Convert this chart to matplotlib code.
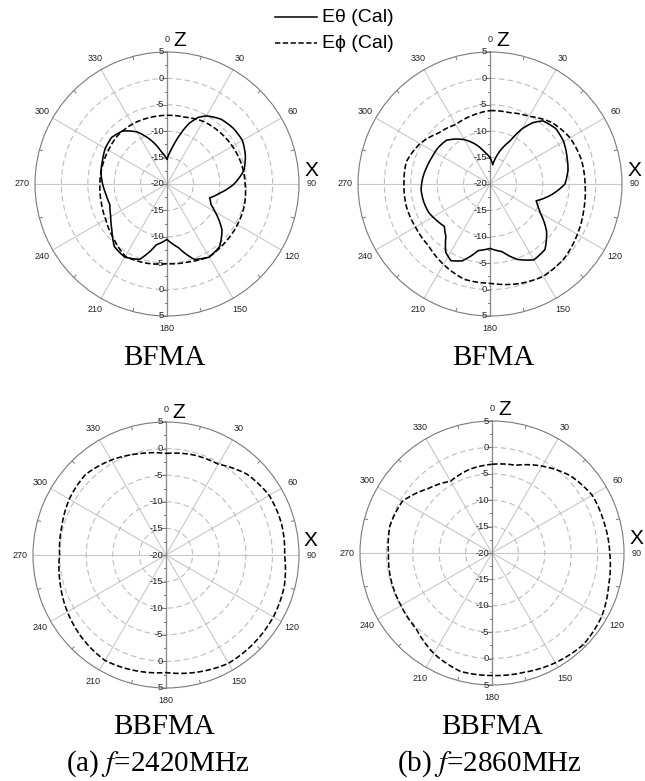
import matplotlib.pyplot as plt
from matplotlib.lines import Line2D
import numpy as np

plt.rcParams['font.family'] = ['Liberation Sans', 'DejaVu Sans']
plt.rcParams['mathtext.fontset'] = 'stix'

# ---- data (dB) ----
# (a) f=2420MHz, BFMA
tl_th_ang = [0, 5, 10, 15, 20, 25, 30, 40, 50, 60, 70, 80, 90, 100, 108, 115, 120, 130, 140, 150,
             160, 170, 180, 190, 200, 210, 220, 230, 240, 250, 260, 270, 280, 290, 300, 310, 320,
             330, 340, 350, 360]
tl_th_val = [-15.3, -14.0, -12.4, -10.2, -7.8, -6.1, -5.1, -4.0, -3.6, -3.5, -4.2, -5.2, -7.3, -9.9,
             -11.5, -10.8, -9.5, -6.4, -4.5, -4.0, -4.8, -7.8, -9.5, -8.3, -4.8, -4.0, -4.5, -6.4,
             -7.7, -8.5, -8.3, -7.8, -7.3, -7.0, -6.5, -6.3, -6.9, -8.6, -11.2, -13.8, -15.3]
tl_ph_ang = [0, 15, 30, 45, 60, 75, 90, 105, 120, 135, 150, 165, 180, 195, 210, 225, 240, 255,
             270, 285, 300, 315, 330, 345, 360]
tl_ph_val = [-7.0, -6.9, -6.3, -6.0, -5.7, -5.4, -5.2, -4.8, -4.6, -4.4, -4.1, -4.7, -4.9, -4.5,
             -4.2, -5.6, -6.6, -7.1, -7.3, -7.3, -7.2, -6.9, -6.9, -7.0, -7.0]

# (b) f=2860MHz, BFMA
tr_th_ang = [0, 8, 15, 20, 25, 30, 35, 40, 50, 60, 70, 80, 90, 100, 110, 115, 120, 130, 140, 150,
             160, 170, 180, 190, 200, 207, 213, 220, 227, 235, 245, 255, 265, 275, 285, 295, 305,
             315, 322, 330, 340, 350, 360]
tr_th_val = [-15.0, -16.3, -14.0, -12.5, -11.0, -8.0, -5.8, -4.4, -3.7, -3.9, -4.5, -5.0, -5.8, -8.2,
             -10.7, -10.0, -9.0, -6.0, -3.8, -3.4, -4.8, -7.0, -7.8, -7.2, -4.5, -3.7, -4.6, -7.0,
             -8.2, -7.8, -7.2, -7.0, -6.9, -7.2, -7.6, -7.9, -8.0, -8.3, -9.2, -10.3, -12.0, -13.8,
             -15.0]
tr_ph_ang = [0, 15, 30, 45, 60, 75, 90, 105, 120, 135, 150, 165, 180, 195, 210, 225, 240, 255,
             270, 285, 300, 315, 330, 345, 360]
tr_ph_val = [-6.1, -6.0, -5.2, -3.5, -2.5, -2.1, -2.0, -1.6, -0.9, -0.1, 0.2, -0.4, -1.2, -1.3,
             -2.4, -3.5, -3.7, -3.6, -3.7, -3.6, -4.7, -6.3, -7.0, -6.6, -6.1]

# (a) f=2420MHz, BBFMA
bl_ph_ang = [0, 15, 30, 45, 60, 75, 90, 105, 120, 135, 150, 165, 180, 195, 210, 225, 240, 255,
             270, 285, 300, 315, 330, 345, 360]
bl_ph_val = [-0.9, -0.5, -0.3, 1.5, 2.4, 2.5, 2.3, 3.0, 3.3, 3.4, 3.5, 2.8, 2.1, 2.5, 2.9, 2.2,
             1.4, 0.6, 0.0, 0.3, 1.0, 1.4, 0.6, -0.3, -0.9]

# (b) f=2860MHz, BBFMA
br_ph_ang = [0, 15, 30, 45, 60, 75, 90, 105, 120, 135, 150, 165, 180, 195, 210, 225, 240, 255,
             270, 285, 300, 315, 330, 345, 360]
br_ph_val = [-3.2, -2.8, -1.0, 0.8, 1.9, 2.0, 2.3, 2.9, 4.0, 4.5, 4.0, 3.4, 3.2, 3.2, 2.0, 0.3,
             -0.1, -0.2, -0.4, 0.0, -0.4, -2.8, -4.3, -3.6, -3.2]

rmin, rmax = -20, 5
W, H = 645, 781
fig = plt.figure(figsize=(W / 100, H / 100), dpi=100)


def px(x, y):
    return x / W, 1 - y / H


def polar_panel(cx, cy, R):
    ax = fig.add_axes([(cx - R) / W, 1 - (cy + R) / H, 2 * R / W, 2 * R / H], projection='polar')
    ax.set_theta_zero_location('N')
    ax.set_theta_direction(-1)
    ax.set_rlim(rmin, rmax)
    ax.set_xticks(np.radians(np.arange(0, 360, 30)))
    ax.set_xticklabels([])
    ax.set_yticks([-15, -10, -5, 0])
    ax.set_yticklabels([])
    ax.xaxis.grid(True, color='#c8c8c8', lw=0.8, ls='-')
    ax.yaxis.grid(True, color='#bdbdbd', lw=0.8, ls=(0, (5, 3)))
    ax.spines['polar'].set_color('#7a7a7a')
    ax.spines['polar'].set_linewidth(0.8)
    ax.tick_params(length=0)

    # vertical axis, darker
    for th in (0, np.pi):
        ax.plot([th, th], [rmin, rmax], color='#8a8a8a', lw=0.9, zorder=1.6)
    # ticks on the vertical axis
    for v in np.arange(rmin, rmax + 0.01, 2.5):
        L = 0.016 if v % 5 == 0 else 0.009
        f = 0.5 * (v - rmin) / (rmax - rmin)
        for y in (0.5 + f, 0.5 - f):
            ax.plot([0.5 - L, 0.5], [y, y], transform=ax.transAxes, color='#7a7a7a', lw=0.7,
                    clip_on=False)
    # minor ticks on the outer circle
    for a in range(15, 360, 30):
        ax.plot([np.radians(a)] * 2, [rmax - 0.6, rmax], color='#7a7a7a', lw=0.7)

    # angle labels
    for a in range(0, 360, 30):
        ax.text(np.radians(a), 7.4, str(a), ha='center', va='center', fontsize=6.5,
                color='#222222', clip_on=False)
    # radial labels along the vertical axis
    for v in range(rmin, rmax + 1, 5):
        f = 0.5 * (v - rmin) / (rmax - rmin)
        ys = [0.5 + f, 0.5 - f] if v != rmin else [0.5]
        for y in ys:
            ax.annotate(str(v), xy=(0.5, y), xycoords='axes fraction', xytext=(-2, 0),
                        textcoords='offset points', ha='right', va='center', fontsize=6.8,
                        color='#222222')

    fig.text(*px(cx + 6, cy - 143), 'Z', ha='left', va='center', fontsize=15)
    fig.text(*px(cx + 144, cy - 14), 'X', ha='center', va='center', fontsize=15)
    return ax


dash = (0, (3.5, 1.6))
panels = [
    (167, 184, 132, [(tl_th_ang, tl_th_val, '-'), (tl_ph_ang, tl_ph_val, dash)]),
    (490, 184, 132, [(tr_th_ang, tr_th_val, '-'), (tr_ph_ang, tr_ph_val, dash)]),
    (166, 555, 133, [(bl_ph_ang, bl_ph_val, dash)]),
    (492, 553, 132, [(br_ph_ang, br_ph_val, dash)]),
]
for cx, cy, R, curves in panels:
    ax = polar_panel(cx, cy, R)
    for ang, val, ls in curves:
        ln, = ax.plot(np.radians(ang), val, color='black', lw=1.15, ls=ls, zorder=3)
        # let the polar transform draw each segment as an arc, not a chord
        ln.get_path()._interpolation_steps = 16

# legend
for y, ls, lab in [(17, '-', 'E\u03b8 (Cal)'), (43, dash, 'E\u03d5 (Cal)')]:
    x1, y1 = px(275, y)
    x2, _ = px(317, y)
    fig.add_artist(Line2D([x1, x2], [y1, y1], transform=fig.transFigure, color='black', lw=1.1,
                          ls=ls))
    fig.text(*px(322, y), lab, ha='left', va='center', fontsize=14)

# captions
serif = ['Liberation Serif', 'DejaVu Serif']
for x, y, s in [(164, 365, 'BFMA'), (493, 365, 'BFMA'), (164, 734, 'BBFMA'), (492, 734, 'BBFMA'),
                (158, 771, r'(a) $f$=2420MHz'), (490, 771, r'(b) $f$=2860MHz')]:
    fig.text(*px(x, y), s, ha='center', va='baseline', fontsize=21, family=serif)

fig.savefig('out.png', dpi=100)
